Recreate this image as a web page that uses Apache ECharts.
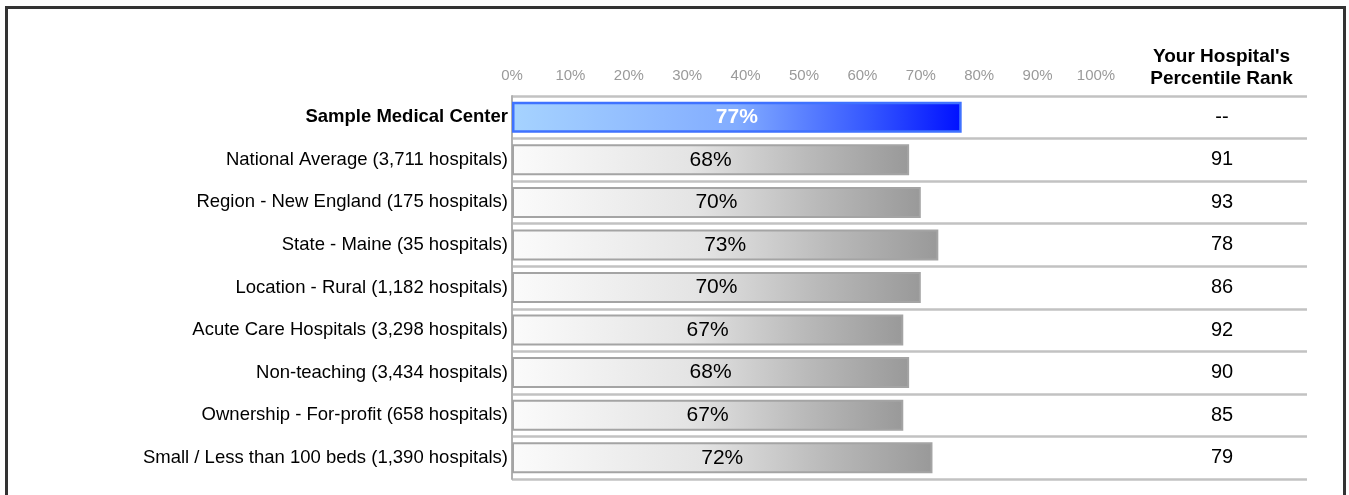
<!DOCTYPE html>
<html>
<head>
<meta charset="utf-8">
<script src="https://cdn.jsdelivr.net/npm/echarts@6/dist/echarts.min.js"></script>
<style>
  html, body { margin: 0; padding: 0; background: #fff; }
  #chart { width: 1349px; height: 495px; }
</style>
</head>
<body>
<div id="chart"></div>
<script>
const categories = [
  'Sample Medical Center',
  'National Average (3,711 hospitals)',
  'Region - New England (175 hospitals)',
  'State - Maine (35 hospitals)',
  'Location - Rural (1,182 hospitals)',
  'Acute Care Hospitals (3,298 hospitals)',
  'Non-teaching (3,434 hospitals)',
  'Ownership - For-profit (658 hospitals)',
  'Small / Less than 100 beds (1,390 hospitals)'
];
const values = [77, 68, 70, 73, 70, 67, 68, 67, 72];
const ranks = [null, 91, 93, 78, 86, 92, 90, 85, 79];
const axisTicks = [0, 10, 20, 30, 40, 50, 60, 70, 80, 90, 100];
const rankHeader = "Your Hospital's\nPercentile Rank";

const FONT = 'Liberation Sans, Arial, Helvetica, sans-serif';

const greyGradient = new echarts.graphic.LinearGradient(0, 0, 1, 0, [
  { offset: 0, color: '#fbfbfb' },
  { offset: 0.45, color: '#e4e4e4' },
  { offset: 0.75, color: '#b9b9b9' },
  { offset: 1, color: '#999999' }
]);
const blueGradient = new echarts.graphic.LinearGradient(0, 0, 1, 0, [
  { offset: 0, color: '#a6d3ff' },
  { offset: 0.5, color: '#82acff' },
  { offset: 0.8, color: '#3355ff' },
  { offset: 1, color: '#0010ff' }
]);

const barData = values.map((v, i) => {
  if (i === 0) {
    return {
      value: v,
      itemStyle: { color: blueGradient, borderColor: '#3f72ff', borderWidth: 2.5 },
      label: { color: '#ffffff', fontWeight: 'bold' }
    };
  }
  return { value: v };
});

const catData = categories.map((c, i) => i === 0
  ? { value: c, textStyle: { fontWeight: 'bold' } }
  : { value: c });

const rankData = ranks.map((r, i) => ({
  value: ['rank', categories[i]],
  rankText: r === null ? '--' : String(r)
}));

const chart = echarts.init(document.getElementById('chart'), null, { renderer: 'canvas' });

const splitLineStyle = { show: true, lineStyle: { color: '#c2c2c2', width: 2.5 } };

chart.setOption({
  animation: false,
  textStyle: { fontFamily: FONT },
  grid: [
    { left: 512, top: 96, width: 584, height: 383 },
    { left: 1096, top: 96, width: 211, height: 383 }
  ],
  xAxis: [
    {
      gridIndex: 0,
      type: 'value',
      position: 'top',
      min: axisTicks[0],
      max: axisTicks[axisTicks.length - 1],
      interval: axisTicks[1] - axisTicks[0],
      axisLine: { show: false },
      axisTick: { show: false },
      splitLine: { show: false },
      axisLabel: {
        formatter: v => v + '%',
        color: '#9a9a9a',
        fontSize: 15,
        fontFamily: FONT,
        margin: 13
      }
    },
    {
      gridIndex: 1,
      type: 'category',
      data: ['rank'],
      show: false
    }
  ],
  yAxis: [
    {
      gridIndex: 0,
      type: 'category',
      inverse: true,
      data: catData,
      axisLine: { show: true, lineStyle: { color: '#b0b0b0', width: 2 } },
      axisTick: { show: false },
      splitLine: splitLineStyle,
      axisLabel: {
        color: '#000',
        fontSize: 18.5,
        fontFamily: FONT,
        margin: 4
      }
    },
    {
      gridIndex: 1,
      type: 'category',
      inverse: true,
      data: categories,
      axisLine: { show: false },
      axisTick: { show: false },
      axisLabel: { show: false },
      splitLine: splitLineStyle
    }
  ],
  graphic: [
    {
      type: 'rect',
      shape: { x: 6.5, y: 7.5, width: 1338, height: 600 },
      style: { fill: 'none', stroke: '#333333', lineWidth: 3 },
      silent: true
    },
    {
      type: 'text',
      x: 1221.5,
      y: 46,
      style: {
        text: rankHeader,
        align: 'center',
        verticalAlign: 'top',
        font: 'bold 19px ' + FONT,
        lineHeight: 22,
        fill: '#000'
      }
    }
  ],
  series: [
    {
      type: 'bar',
      xAxisIndex: 0,
      yAxisIndex: 0,
      data: barData,
      barWidth: 31,
      itemStyle: { color: greyGradient, borderColor: '#a4a4a4', borderWidth: 2 },
      label: {
        show: true,
        position: 'inside',
        formatter: p => p.value + '%',
        color: '#000',
        fontSize: 21,
        fontFamily: FONT
      }
    },
    {
      type: 'scatter',
      xAxisIndex: 1,
      yAxisIndex: 1,
      symbolSize: 0,
      data: rankData,
      itemStyle: { opacity: 1 },
      label: {
        show: true,
        position: 'inside',
        offset: [20.5, 0],
        formatter: p => p.data.rankText,
        color: '#000',
        opacity: 1,
        fontSize: 20,
        fontFamily: FONT
      }
    }
  ]
});
</script>
</body>
</html>
